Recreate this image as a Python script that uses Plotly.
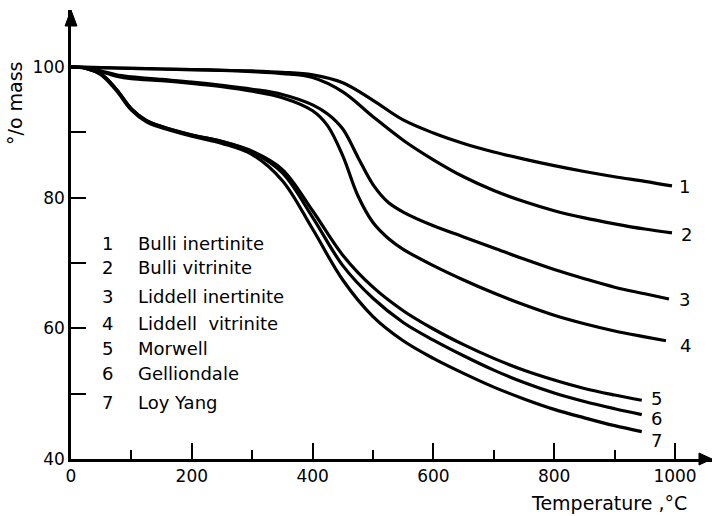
import plotly.graph_objects as go

# ---- data ----
names = ["Bulli inertinite", "Bulli vitrinite", "Liddell inertinite", "Liddell  vitrinite",
         "Morwell", "Gelliondale", "Loy Yang"]
ids = ["1", "2", "3", "4", "5", "6", "7"]

t1 = [0, 50, 100, 150, 200, 250, 300, 350, 400, 450, 500, 550, 600, 650, 700, 750, 800, 850, 900, 950, 995]
m1 = [100, 99.9, 99.8, 99.7, 99.6, 99.5, 99.4, 99.2, 98.8, 97.6, 94.9, 91.9, 89.9, 88.3, 87.0, 85.9, 84.9, 84.0, 83.2, 82.5, 81.8]

t2 = [0, 50, 100, 150, 200, 250, 300, 350, 400, 450, 500, 550, 600, 650, 700, 750, 800, 850, 900, 950, 995]
m2 = [100, 99.9, 99.8, 99.7, 99.6, 99.5, 99.3, 99.0, 98.4, 96.2, 92.4, 88.8, 85.8, 83.2, 81.1, 79.4, 78.0, 76.9, 76.0, 75.2, 74.6]

t3 = [0, 25, 50, 75, 100, 150, 200, 250, 300, 350, 400, 425, 450, 475, 500, 525, 550, 600, 650, 700, 750, 800, 850, 900, 950, 990]
m3 = [100, 99.9, 99.4, 98.8, 98.5, 98.1, 97.7, 97.2, 96.6, 95.8, 94.2, 92.8, 90.5, 86.2, 82.0, 79.3, 77.8, 75.7, 74.0, 72.3, 70.6, 69.0, 67.6, 66.3, 65.3, 64.5]

t4 = [0, 25, 50, 75, 100, 150, 200, 250, 300, 350, 400, 425, 450, 475, 500, 525, 550, 600, 650, 700, 750, 800, 850, 900, 950, 985]
m4 = [100, 99.9, 99.3, 98.6, 98.2, 97.9, 97.5, 97.0, 96.3, 95.3, 93.3, 91.0, 86.4, 80.3, 76.2, 73.8, 72.1, 69.6, 67.4, 65.4, 63.6, 62.0, 60.7, 59.6, 58.7, 58.1]

t5 = [0, 25, 50, 75, 100, 125, 150, 200, 250, 300, 350, 400, 450, 500, 550, 600, 650, 700, 750, 800, 850, 900, 945]
m5 = [100, 99.8, 98.9, 96.6, 93.6, 91.8, 90.9, 89.6, 88.6, 87.1, 84.3, 78.0, 71.2, 66.3, 62.7, 59.9, 57.5, 55.4, 53.6, 52.1, 50.8, 49.8, 49.0]

t6 = [0, 25, 50, 75, 100, 125, 150, 200, 250, 300, 350, 400, 450, 500, 550, 600, 650, 700, 750, 800, 850, 900, 945]
m6 = [100, 99.8, 98.9, 96.6, 93.6, 91.8, 90.9, 89.6, 88.6, 87.0, 83.8, 77.0, 69.6, 64.6, 60.9, 58.2, 55.8, 53.6, 51.7, 50.1, 48.8, 47.7, 46.8]

t7 = [0, 25, 50, 75, 100, 125, 150, 200, 250, 300, 350, 400, 450, 500, 550, 600, 650, 700, 750, 800, 850, 900, 945]
m7 = [100, 99.8, 98.8, 96.4, 93.4, 91.6, 90.7, 89.4, 88.3, 86.6, 82.6, 75.2, 67.4, 61.8, 58.1, 55.4, 53.1, 51.0, 49.2, 47.6, 46.3, 45.1, 44.2]

xticks = [0, 200, 400, 600, 800, 1000]
xminor = [100, 300, 500, 700, 900]
yticks = [40, 50, 60, 70, 80, 90, 100]
ylabels = ["40", "", "60", "", "80", "", "100"]

series = [(t1, m1), (t2, m2), (t3, m3), (t4, m4), (t5, m5), (t6, m6), (t7, m7)]

FONT = "DejaVu Sans"
fig = go.Figure()
for (t, m), nm in zip(series, names):
    fig.add_trace(go.Scatter(x=t, y=m, mode="lines", name=nm,
                             line=dict(color="black", width=3.2, shape="spline", smoothing=1.0),
                             showlegend=False, hoverinfo="skip"))

# px -> data helpers for label placement
def dx(px):
    return (px - 71) / 0.604

def dy(py):
    return 40 + (459 - py) / 6.533

ann = []
rows_py = [243, 267, 296, 323, 348, 373, 402]
for i, (num, nm) in enumerate(zip(ids, names)):
    ann.append(dict(x=dx(107), y=dy(rows_py[i]), text=num, showarrow=False,
                    xanchor="center", yanchor="middle", font=dict(size=18, family=FONT, color="black")))
    ann.append(dict(x=dx(136), y=dy(rows_py[i]), text=nm, showarrow=False,
                    xanchor="left", yanchor="middle", font=dict(size=18, family=FONT, color="black")))

end_px = [(684, 186), (686, 234), (684, 299), (685, 345), (656, 398), (656, 418), (656, 440)]
for num, (px, py) in zip(ids, end_px):
    ann.append(dict(x=dx(px), y=dy(py), text=num, showarrow=False,
                    xanchor="center", yanchor="middle", font=dict(size=18, family=FONT, color="black")))

ann.append(dict(xref="paper", yref="paper", x=(15 - 71) / 641, y=(459 - 103) / 449,
                text="°/o mass", textangle=-90, showarrow=False, xanchor="center", yanchor="middle",
                font=dict(size=19, family=FONT, color="black")))
ann.append(dict(xref="paper", yref="paper", x=(689 - 71) / 641, y=(459 - 503) / 449,
                text="Temperature ,°C", showarrow=False, xanchor="right", yanchor="middle",
                font=dict(size=19, family=FONT, color="black")))

shapes = [
    dict(type="path", xref="paper", yref="paper",
         path="M 0 1 L %f %f L %f %f Z" % (-6 / 641, 1 - 16 / 449, 6 / 641, 1 - 16 / 449),
         fillcolor="black", line=dict(color="black", width=1)),
    dict(type="path", xref="paper", yref="paper",
         path="M 1 0 L %f %f L %f %f Z" % (1 - 13 / 641, 6 / 449, 1 - 13 / 641, -6 / 449),
         fillcolor="black", line=dict(color="black", width=1)),
]

fig.update_layout(
    width=713, height=516,
    margin=dict(l=71, r=1, t=10, b=57),
    paper_bgcolor="white", plot_bgcolor="white",
    font=dict(family=FONT, size=17, color="black"),
    annotations=ann, shapes=shapes,
    xaxis=dict(range=[0, 641 / 0.604], showgrid=False, zeroline=False,
               showline=True, linecolor="black", linewidth=2.5,
               ticks="inside", ticklen=16, tickwidth=2, tickcolor="black",
               tickvals=xticks, ticktext=[str(v) for v in xticks],
               minor=dict(tickvals=xminor, ticks="inside", ticklen=9, tickwidth=2, tickcolor="black"),
               tickfont=dict(size=17, family=FONT)),
    yaxis=dict(range=[40, 40 + 449 / 6.533], showgrid=False, zeroline=False,
               showline=True, linecolor="black", linewidth=2.5,
               ticks="inside", ticklen=15, tickwidth=2, tickcolor="black",
               tickvals=yticks, ticktext=ylabels,
               tickfont=dict(size=17, family=FONT)),
)

fig.write_html("out.html")
